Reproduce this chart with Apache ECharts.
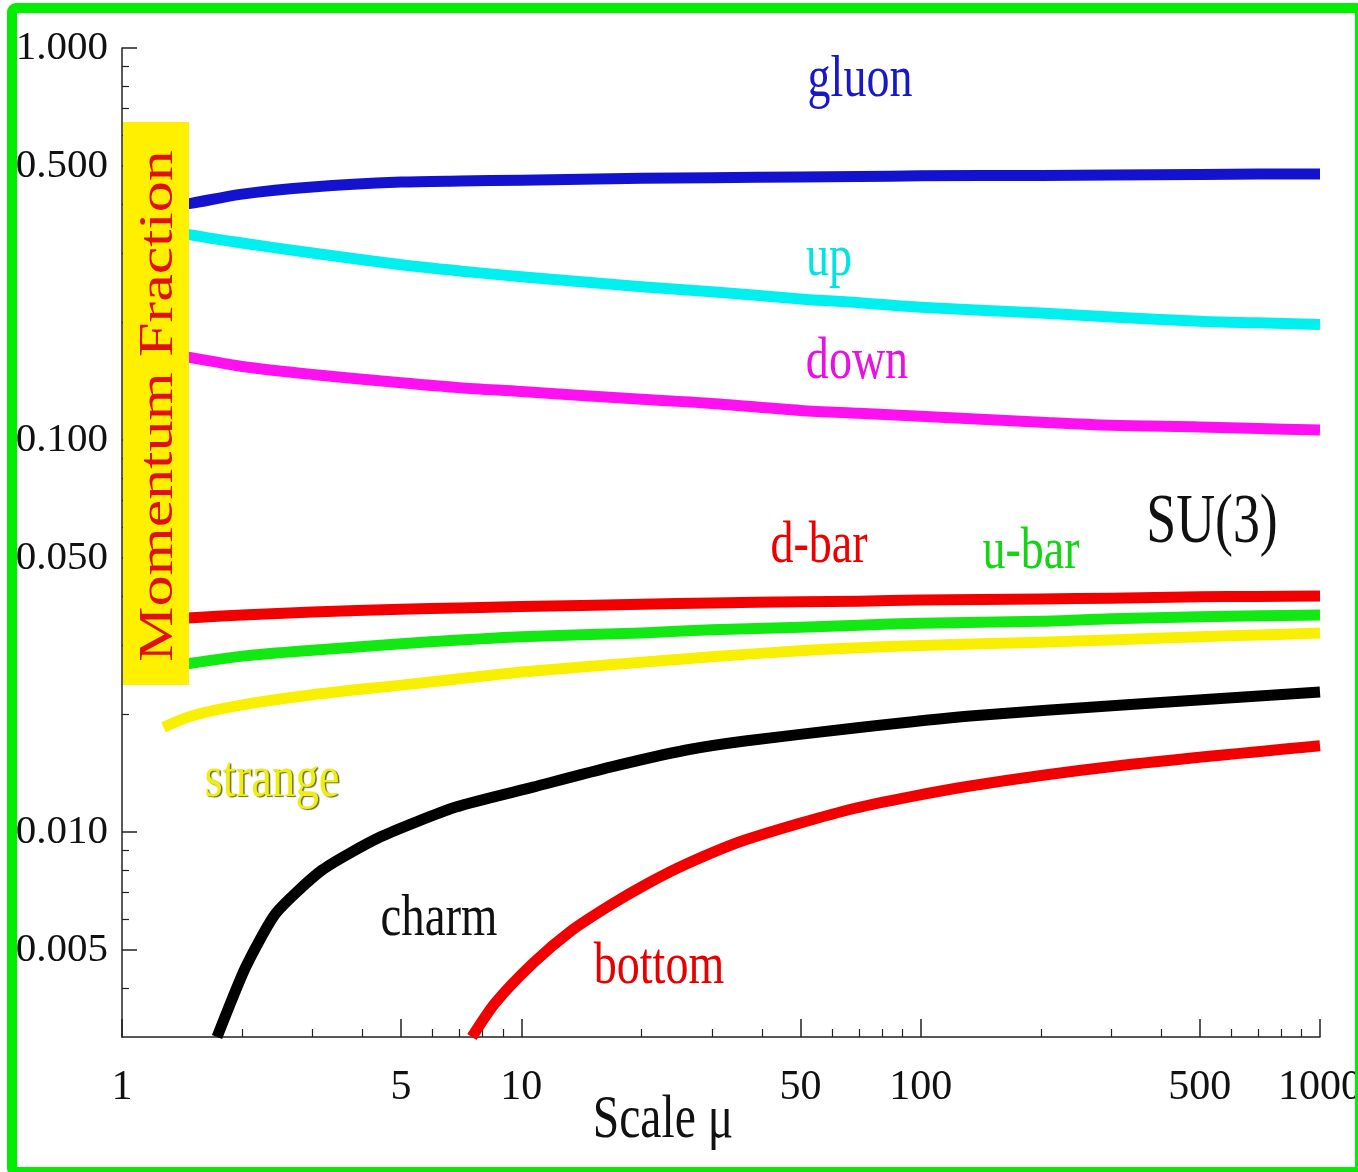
<!DOCTYPE html>
<html>
<head>
<meta charset="utf-8">
<script src="https://cdn.jsdelivr.net/npm/echarts@6/dist/echarts.min.js"></script>
<style>
html,body{margin:0;padding:0;background:#fff;overflow:hidden;}
#chart{width:1358px;height:1172px;}
</style>
</head>
<body>
<div id="chart"></div>
<script>
// ---- data ----
const muGrid  = [1.27, 1.5, 2, 3, 5, 7, 10, 20, 30, 50, 70, 100, 200, 300, 500, 700, 1000];
const gluon   = [0.391, 0.402, 0.424, 0.442, 0.455, 0.458, 0.460, 0.465, 0.467, 0.469, 0.470, 0.472, 0.473, 0.474, 0.476, 0.477, 0.477];
const up      = [0.347, 0.333, 0.318, 0.300, 0.280, 0.270, 0.261, 0.246, 0.239, 0.229, 0.224, 0.218, 0.211, 0.206, 0.201, 0.199, 0.197];
const down    = [0.167, 0.162, 0.154, 0.147, 0.140, 0.136, 0.133, 0.127, 0.124, 0.119, 0.117, 0.115, 0.111, 0.109, 0.108, 0.107, 0.106];
const dbar    = [0.0347, 0.0352, 0.0358, 0.0364, 0.0370, 0.0373, 0.0376, 0.0381, 0.0384, 0.0387, 0.0388, 0.0391, 0.0393, 0.0395, 0.0398, 0.0399, 0.0400];
const ubar    = [0.0264, 0.0270, 0.0281, 0.0291, 0.0302, 0.0309, 0.0315, 0.0322, 0.0328, 0.0333, 0.0337, 0.0341, 0.0345, 0.0350, 0.0354, 0.0356, 0.0358];
const strange = [0.0185, 0.0198, 0.0211, 0.0224, 0.0237, 0.0246, 0.0256, 0.0271, 0.0280, 0.0290, 0.0295, 0.0299, 0.0305, 0.0309, 0.0315, 0.0318, 0.0322];
const charmMu = [1.73, 2.04, 2.43, 3.17, 4.43, 6.86, 10.7, 16.7, 25.9, 36.3, 68.5, 133, 321, 1000];
const charm   = [0.0030, 0.00452, 0.00621, 0.00800, 0.00971, 0.01158, 0.01302, 0.01464, 0.01619, 0.01707, 0.01842, 0.01976, 0.02109, 0.02276];
const bottomMu = [7.52, 8.59, 10.7, 13.3, 16.7, 20.8, 25.9, 36.3, 68.5, 133, 321, 1000];
const bottom   = [0.0030, 0.00366, 0.00463, 0.00559, 0.00651, 0.00741, 0.00829, 0.00954, 0.0115, 0.0131, 0.0148, 0.0166];

const xTickValues  = [1, 5, 10, 50, 100, 500, 1000];
const xTickLabels  = ['1', '5', '10', '50', '100', '500', '1000'];
const xMinorValues = [2, 3, 4, 6, 7, 8, 9, 20, 30, 40, 60, 70, 80, 90, 200, 300, 400, 600, 700, 800, 900];
const yTickValues  = [0.005, 0.01, 0.05, 0.1, 0.5, 1];
const yTickLabels  = ['0.005', '0.010', '0.050', '0.100', '0.500', '1.000'];
const yMinorValues = [0.004, 0.006, 0.007, 0.008, 0.009, 0.02, 0.03, 0.04, 0.06, 0.07, 0.08, 0.09, 0.2, 0.3, 0.4, 0.6, 0.7, 0.8, 0.9];

const SERIF = '"Liberation Serif", "Times New Roman", serif';
const axisColor = '#222';

function pairs(xs, ys) { return xs.map((x, i) => [x, ys[i]]); }
function labelFor(values, labels, v) {
  let best = 0, bd = Infinity;
  values.forEach((t, i) => { const d = Math.abs(Math.log10(t) - Math.log10(v)); if (d < bd) { bd = d; best = i; } });
  return labels[best];
}

const chart = echarts.init(document.getElementById('chart'), null, {renderer: 'canvas'});

function line(name, xs, ys, color, smooth) {
  return {
    name, type: 'line', xAxisIndex: 0, yAxisIndex: 0,
    data: pairs(xs, ys), showSymbol: false, symbol: 'none',
    smooth: smooth,
    lineStyle: {color, width: 11, cap: 'butt', join: 'round'},
    itemStyle: {color}, z: 3
  };
}

function annot(text, x, y, size, color, extra) {
  return Object.assign({
    type: 'text', x, y, scaleX: 0.78, z: 50,
    style: Object.assign({
      text, fontFamily: SERIF, fontSize: size, fill: color,
      textAlign: 'center', textVerticalAlign: 'middle'
    }, (extra && extra.style) || {})
  }, (extra && extra.el) || {});
}

const option = {
  animation: false,
  backgroundColor: '#ffffff',
  grid: {left: 122, top: 48, width: 1198, height: 989, containLabel: false, outerBoundsMode: 'none'},
  xAxis: [
    {
      type: 'log', logBase: 10, min: 1, max: 1000, position: 'bottom',
      axisLine: {show: true, onZero: false, lineStyle: {color: axisColor, width: 1.5}},
      axisTick: {show: true, inside: true, length: 18, customValues: xTickValues, lineStyle: {color: axisColor, width: 1.5}},
      axisLabel: {show: true, customValues: xTickValues, margin: 30, fontFamily: SERIF, fontSize: 42, color: '#111',
        formatter: v => labelFor(xTickValues, xTickLabels, v)},
      splitLine: {show: false}, minorTick: {show: false}
    },
    {
      type: 'log', logBase: 10, min: 1, max: 1000, position: 'bottom',
      axisLine: {show: false},
      axisTick: {show: true, inside: true, length: 8, customValues: xMinorValues, lineStyle: {color: axisColor, width: 1.2}},
      axisLabel: {show: false}, splitLine: {show: false}
    }
  ],
  yAxis: [
    {
      type: 'log', logBase: 10, min: 0.003, max: 1, position: 'left',
      axisLine: {show: true, onZero: false, lineStyle: {color: axisColor, width: 1.5}},
      axisTick: {show: true, inside: true, length: 15, customValues: yTickValues, lineStyle: {color: axisColor, width: 1.5}},
      axisLabel: {show: true, customValues: yTickValues, margin: 14, fontFamily: SERIF, fontSize: 41, color: '#111',
        formatter: v => labelFor(yTickValues, yTickLabels, v)},
      splitLine: {show: false}, minorTick: {show: false}
    },
    {
      type: 'log', logBase: 10, min: 0.003, max: 1, position: 'left',
      axisLine: {show: false},
      axisTick: {show: true, inside: true, length: 7, customValues: yMinorValues, lineStyle: {color: axisColor, width: 1.2}},
      axisLabel: {show: false}, splitLine: {show: false}
    }
  ],
  series: [
    line('gluon', muGrid, gluon, '#1212cf', 0.3),
    line('up', muGrid, up, '#00f0f0', 0.3),
    line('down', muGrid, down, '#ff10f0', 0.3),
    line('d-bar', muGrid, dbar, '#f20000', 0.3),
    line('u-bar', muGrid, ubar, '#12e812', 0.3),
    line('strange', muGrid, strange, '#f8f000', 0.3),
    line('charm', charmMu, charm, '#000000', 0.2),
    line('bottom', bottomMu, bottom, '#f20000', 0.25)
  ],
  graphic: [
    // outer green frame
    {type: 'rect', z: 200, shape: {x: 12, y: 8, width: 1348, height: 1164, r: 4},
      style: {fill: 'none', stroke: '#00ee00', lineWidth: 10}},
    // y-axis title box
    {type: 'rect', z: 100, shape: {x: 123, y: 122, width: 66, height: 563},
      style: {fill: '#fff000'}},
    {type: 'text', z: 101, x: 159, y: 406, rotation: Math.PI / 2, scaleY: 0.78,
      style: {text: 'Momentum Fraction', fontFamily: SERIF, fontSize: 62, fill: '#e01010',
        textAlign: 'center', textVerticalAlign: 'middle'}},
    // curve annotations
    annot('gluon', 860, 80, 59, '#1818c8'),
    annot('up', 829, 259, 59, '#00e4e4'),
    annot('down', 857, 362, 59, '#e812e0'),
    annot('d-bar', 819, 546, 59, '#ee0000'),
    annot('u-bar', 1031, 552, 59, '#14d414'),
    annot('SU(3)', 1212, 524, 69, '#111111'),
    annot('strange', 272, 780, 60, '#eeee10', {style: {textShadowColor: '#6b6b2a', textShadowOffsetX: 1.5, textShadowOffsetY: 1.5, textShadowBlur: 1}}),
    annot('charm', 439, 919, 60, '#111111'),
    annot('bottom', 659, 967, 59, '#e80000'),
    annot('Scale \u03bc', 663, 1121, 61, '#111111')
  ]
};
chart.setOption(option);
</script>
</body>
</html>
